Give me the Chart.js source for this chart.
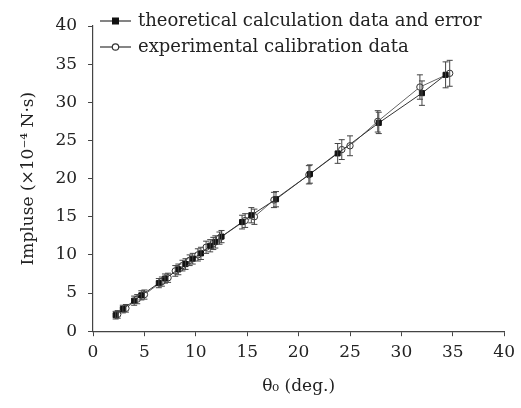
<!DOCTYPE html>
<html>
<head>
<meta charset="utf-8">
<script src="https://cdn.jsdelivr.net/npm/chart.js@4"></script>
<style>
  html, body { margin: 0; padding: 0; background: #fff; }
  #wrap { width: 521px; height: 408px; position: relative; }
</style>
</head>
<body>
<div id="wrap"><canvas id="c"></canvas></div>
<script>
// data
const theoAngle = [2.2, 2.9, 4.0, 4.7, 6.4, 7.0, 8.3, 9.0, 9.7, 10.5, 11.4, 11.9, 12.5, 14.5, 15.4, 17.8, 21.1, 23.8, 27.8, 32.0, 34.3];
const theoImpulse = [2.1, 2.9, 4.0, 4.7, 6.3, 6.9, 8.1, 8.8, 9.5, 10.2, 11.2, 11.7, 12.4, 14.3, 15.2, 17.3, 20.6, 23.3, 27.3, 31.2, 33.6];
const theoError = [0.5, 0.5, 0.6, 0.6, 0.6, 0.6, 0.7, 0.7, 0.7, 0.8, 0.8, 0.8, 0.8, 0.9, 1.0, 1.0, 1.2, 1.3, 1.4, 1.6, 1.7];

const expAngle = [2.4, 3.2, 4.3, 5.0, 6.7, 7.3, 8.0, 8.7, 9.4, 10.2, 11.0, 11.7, 12.3, 14.8, 15.7, 17.6, 21.0, 24.2, 25.0, 27.7, 31.8, 34.7];
const expImpulse = [2.2, 3.0, 4.2, 4.8, 6.5, 7.0, 7.9, 8.6, 9.3, 10.0, 11.0, 11.5, 12.2, 14.5, 15.0, 17.2, 20.5, 23.8, 24.3, 27.5, 32.0, 33.8];
const expError = [0.5, 0.5, 0.6, 0.6, 0.6, 0.6, 0.7, 0.7, 0.7, 0.8, 0.8, 0.8, 0.8, 0.9, 1.0, 1.0, 1.2, 1.3, 1.3, 1.4, 1.6, 1.7];

const xTicks = [0, 5, 10, 15, 20, 25, 30, 35, 40];
const yTicks = [0, 5, 10, 15, 20, 25, 30, 35, 40];

const legendLabels = ["theoretical calculation data and error", "experimental calibration data"];

const FONT = "'DejaVu Serif', serif";
const INK = "#222";

function toPoints(xs, ys, es) {
  return xs.map((x, i) => ({ x: x, y: ys[i], err: es[i] }));
}

// error bars drawn through the scales
const errorBars = {
  id: "errorBars",
  afterDatasetsDraw(chart) {
    const ctx = chart.ctx;
    const ys = chart.scales.y;
    ctx.save();
    ctx.strokeStyle = "#444";
    ctx.lineWidth = 1;
    chart.data.datasets.forEach((ds, di) => {
      const meta = chart.getDatasetMeta(di);
      meta.data.forEach((pt, i) => {
        const d = ds.data[i];
        const top = ys.getPixelForValue(d.y + d.err);
        const bot = ys.getPixelForValue(d.y - d.err);
        ctx.beginPath();
        ctx.moveTo(pt.x, top); ctx.lineTo(pt.x, bot);
        ctx.moveTo(pt.x - 3, top); ctx.lineTo(pt.x + 3, top);
        ctx.moveTo(pt.x - 3, bot); ctx.lineTo(pt.x + 3, bot);
        ctx.stroke();
      });
    });
    ctx.restore();
  },
};

// legend inside the plot, top left
const insideLegend = {
  id: "insideLegend",
  afterDraw(chart) {
    const ctx = chart.ctx;
    const x0 = 100, x1 = 131;
    const rows = [21, 47];
    ctx.save();
    ctx.font = "18px " + FONT;
    ctx.textBaseline = "middle";
    rows.forEach((y, i) => {
      ctx.strokeStyle = "#333";
      ctx.lineWidth = 1.2;
      ctx.beginPath();
      ctx.moveTo(x0, y); ctx.lineTo(x1, y);
      ctx.stroke();
      const mx = (x0 + x1) / 2;
      if (i === 0) {
        ctx.fillStyle = "#111";
        ctx.fillRect(mx - 3.5, y - 3.5, 7, 7);
      } else {
        ctx.fillStyle = "#fff";
        ctx.beginPath();
        ctx.arc(mx, y, 3.2, 0, Math.PI * 2);
        ctx.fill();
        ctx.stroke();
      }
      ctx.fillStyle = INK;
      ctx.fillText(legendLabels[i], 138, y);
    });
    ctx.restore();
  },
};

new Chart(document.getElementById("c"), {
  type: "scatter",
  data: {
    datasets: [
      {
        label: legendLabels[0],
        data: toPoints(theoAngle, theoImpulse, theoError),
        showLine: true,
        borderColor: "#333",
        borderWidth: 1,
        pointStyle: "rect",
        pointRadius: 3.6,
        pointBackgroundColor: "#111",
        pointBorderColor: "#111",
        pointBorderWidth: 1,
      },
      {
        label: legendLabels[1],
        data: toPoints(expAngle, expImpulse, expError),
        showLine: true,
        borderColor: "#666",
        borderWidth: 1,
        pointStyle: "circle",
        pointRadius: 3.2,
        pointBackgroundColor: "#fff",
        pointBorderColor: "#333",
        pointBorderWidth: 1,
      },
    ],
  },
  options: {
    responsive: true,
    maintainAspectRatio: false,
    animation: false,
    layout: { padding: { left: 18, right: 15, top: 26, bottom: 11 } },
    plugins: {
      legend: { display: false },
      tooltip: { enabled: false },
    },
    scales: {
      x: {
        type: "linear",
        min: 0,
        max: 40,
        afterBuildTicks: (axis) => { axis.ticks = xTicks.map((v) => ({ value: v })); },
        grid: { drawOnChartArea: false, drawTicks: true, tickLength: 5, color: "#444" },
        border: { color: "#444", width: 1.2 },
        ticks: { color: INK, font: { family: FONT, size: 17 }, padding: 6, maxRotation: 0 },
        title: {
          display: true,
          text: "θ\u2080 (deg.)",
          color: INK,
          font: { family: FONT, size: 17 },
          padding: { top: 8, bottom: 0 },
        },
      },
      y: {
        type: "linear",
        min: 0,
        max: 40,
        afterBuildTicks: (axis) => { axis.ticks = yTicks.map((v) => ({ value: v })); },
        grid: { drawOnChartArea: false, drawTicks: true, tickLength: 5, color: "#444" },
        border: { color: "#444", width: 1.2 },
        ticks: { color: INK, font: { family: FONT, size: 17 }, padding: 11 },
        title: {
          display: true,
          text: "Impluse (\u00d710\u207b\u2074 N\u00b7s)",
          color: INK,
          font: { family: FONT, size: 17 },
          padding: { top: 0, bottom: 6 },
        },
      },
    },
  },
  plugins: [errorBars, insideLegend],
});
</script>
</body>
</html>
